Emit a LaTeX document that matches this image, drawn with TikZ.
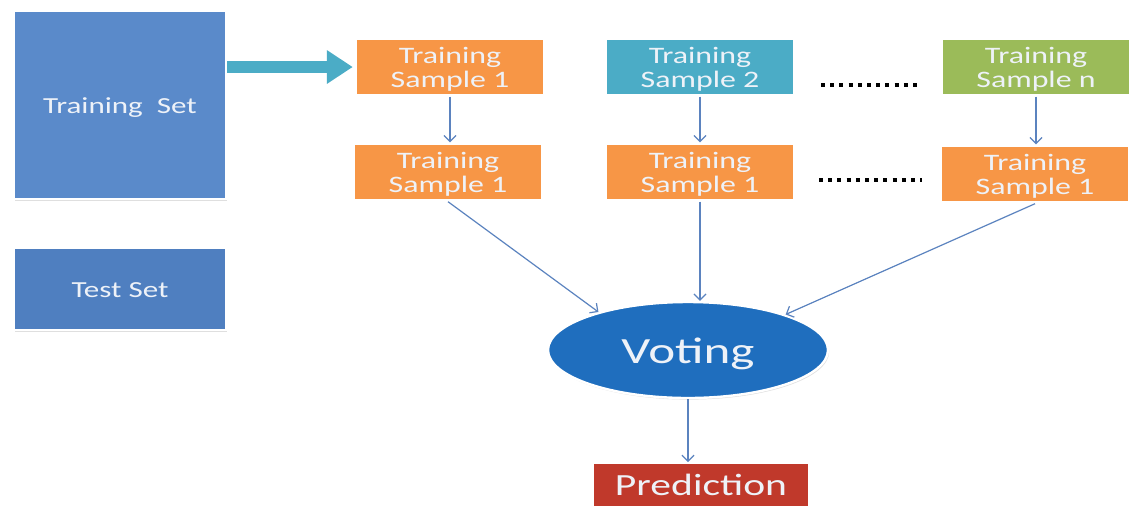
\documentclass[tikz,border=0pt]{standalone}
\usepackage{fontspec}
\usepackage{graphicx}
\setmainfont{Carlito}
\usetikzlibrary{shapes.geometric,shadows,arrows.meta}
\definecolor{setblue}{HTML}{5A8ACA}
\definecolor{testblue}{HTML}{4F7FC0}
\definecolor{sorange}{HTML}{F79646}
\definecolor{steal}{HTML}{4BACC6}
\definecolor{sgreen}{HTML}{9BBB59}
\definecolor{vblue}{HTML}{1F6EBE}
\definecolor{pred}{HTML}{C0392B}
\definecolor{linkblue}{HTML}{5B83BF}
\definecolor{txt}{HTML}{EEF2F8}
% widened label text, one or more centred lines, drawn slightly low
% while keeping its box dimensions (so the node stays where it is)
\newcommand{\widelabel}[2][1.35]{\raisebox{-1.6pt}[\height][\depth]{\scalebox{#1}[1]{\begin{tabular}{@{}c@{}}#2\end{tabular}}}}
\tikzset{
  card/.style={draw=white, line width=1.2pt, text=txt, align=center,
    inner sep=0pt, drop shadow={opacity=0.25, shadow xshift=0.6pt, shadow yshift=-0.8pt}},
  sample/.style={card, minimum width=94pt, minimum height=28.5pt,
    font=\fontsize{11.8}{12}\selectfont},
  link/.style={draw=linkblue, line width=0.6pt, -{Straight Barb[length=3pt,width=6pt]}},
  dotrow/.style={line width=2pt, dash pattern=on 2pt off 2.6pt}
}
\begin{document}
\begin{tikzpicture}[x=0.5pt,y=-0.5pt]
\useasboundingbox (0,0) rectangle (1134,505);
\clip (0,0) rectangle (1134,505);
\fill[white] (0,0) rectangle (1134,505);

% data sets
\node[card, fill=setblue, minimum width=106pt, minimum height=94pt,
  font=\fontsize{11.5}{12}\selectfont] (train) at (120,105) {\widelabel{Training\ \ Set}};
\node[card, fill=testblue, minimum width=106pt, minimum height=41pt,
  font=\fontsize{11.5}{12}\selectfont] (test) at (120,289) {\widelabel{Test Set}};

% bootstrap samples
\node[sample, fill=sorange] (s1) at (450,67) {\widelabel{Training\\Sample 1}};
\node[sample, fill=steal]   (s2) at (700,67) {\widelabel{Training\\Sample 2}};
\node[sample, fill=sgreen]  (sn) at (1036,67) {\widelabel{Training\\Sample n}};
\node[sample, fill=sorange] (t1) at (448,172) {\widelabel{Training\\Sample 1}};
\node[sample, fill=sorange] (t2) at (700,172) {\widelabel{Training\\Sample 1}};
\node[sample, fill=sorange] (tn) at (1035,174) {\widelabel{Training\\Sample 1}};

% aggregation
\node[card, ellipse, fill=vblue, minimum width=140pt, minimum height=48pt,
  font=\fontsize{18.5}{20}\selectfont] (vote) at (688,350) {\raisebox{-1pt}[\height][\depth]{\widelabel[1.38]{Voting}}};
\node[card, fill=pred, minimum width=108pt, minimum height=22.5pt, anchor=north,
  font=\fontsize{15.4}{16}\selectfont] (pred) at (701,462) {\widelabel{Prediction}};

% sampling arrow
\coordinate (a0) at (train.east |- s1.west);
\draw[white, line width=8pt, -{Triangle[length=15pt,width=20pt]}] (a0) -- (s1.west);
\draw[steal, line width=6pt, shorten >=1pt, -{Triangle[length=13pt,width=16pt]}] (a0) -- (s1.west);

% ellipsis rows
\coordinate (d1a) at (821,85);  \coordinate (d1b) at (920,85);
\coordinate (d2a) at (819,180); \coordinate (d2b) at (922,180);
\draw[dotrow] (d1a) -- (d1b);
\draw[dotrow] (d2a) -- (d2b);

% connectors
\draw[link] (s1.south) -- (t1.north -| s1.south);
\draw[link] (s2.south) -- (t2.north);
\draw[link] (sn.south) -- (tn.north -| sn.south);
\draw[link] (t1.south) -- (vote.157);
\draw[link] (t2.south) -- (vote.north -| t2.south);
\draw[link] (tn.south) -- (vote.20);
\draw[link] (vote.south) -- (pred.north -| vote.south);
\end{tikzpicture}
\end{document}
